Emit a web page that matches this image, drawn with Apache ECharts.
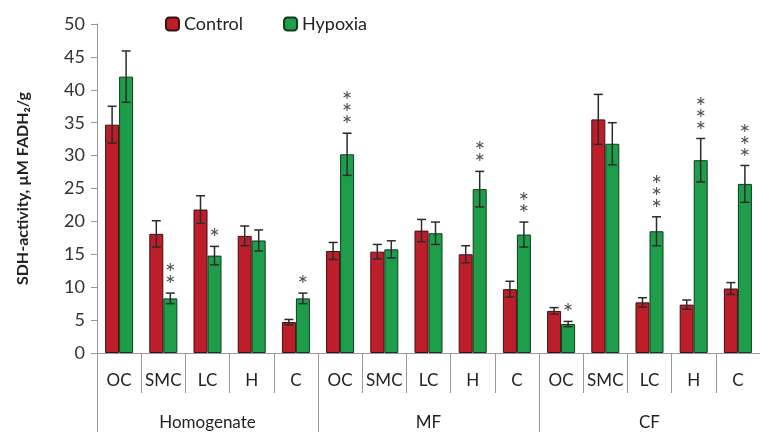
<!DOCTYPE html>
<html>
<head>
<meta charset="utf-8">
<script src="https://cdn.jsdelivr.net/npm/echarts@6/dist/echarts.min.js"></script>
<style>
  html, body { margin: 0; padding: 0; background: #fff; }
  #chart { width: 760px; height: 432px; }
</style>
</head>
<body>
<div id="chart"></div>
<script>
// Tissue categories, repeated for each fraction
const categories = ['OC', 'SMC', 'LC', 'H', 'C', 'OC', 'SMC', 'LC', 'H', 'C', 'OC', 'SMC', 'LC', 'H', 'C'];
const groups = ['Homogenate', 'MF', 'CF'];

// SDH activity (µM FADH2/g), mean and error
const controlMean = [34.7, 18.1, 21.8, 17.8, 4.7, 15.5, 15.4, 18.6, 15.0, 9.7, 6.4, 35.5, 7.7, 7.35, 9.8];
const controlErr  = [2.8, 2.0, 2.1, 1.5, 0.4, 1.3, 1.1, 1.7, 1.3, 1.2, 0.5, 3.8, 0.7, 0.7, 0.9];
const hypoxiaMean = [42.0, 8.3, 14.8, 17.1, 8.3, 30.2, 15.75, 18.2, 24.9, 18.0, 4.4, 31.8, 18.5, 29.3, 25.7];
const hypoxiaErr  = [3.9, 0.8, 1.4, 1.6, 0.8, 3.2, 1.3, 1.7, 2.7, 1.9, 0.4, 3.2, 2.2, 3.3, 2.8];
// significance markers (number of asterisks) for hypoxia vs control
const hypoxiaStars = [0, 2, 1, 0, 1, 3, 0, 0, 2, 2, 1, 0, 3, 3, 3];

const yTicks = { min: 0, max: 50, interval: 5 };

const FONT = 'Lato, "Open Sans", sans-serif';
const RED = '#BE1E2A';
const GREEN = '#1E9E4A';
const BAR_W = 14;

function errorSeries(name, means, errs, stars, offset) {
  return {
    name: name + ' error',
    type: 'custom',
    xAxisIndex: 0,
    z: 5,
    silent: true,
    data: means.map((m, i) => [i, m, errs[i], stars ? stars[i] : 0]),
    encode: { x: 0, y: 1 },
    renderItem: function (params, api) {
      const i = api.value(0);
      const mean = api.value(1);
      const err = api.value(2);
      const n = api.value(3);
      const hi = api.coord([i, mean + err]);
      const lo = api.coord([i, mean - err]);
      const x = hi[0] + offset;
      const style = { stroke: '#2b2b2b', lineWidth: 1.5 };
      const children = [
        { type: 'line', shape: { x1: x, y1: lo[1], x2: x, y2: hi[1] }, style: style },
        { type: 'line', shape: { x1: x - 4.5, y1: hi[1], x2: x + 4.5, y2: hi[1] }, style: style },
        { type: 'line', shape: { x1: x - 4.5, y1: lo[1], x2: x + 4.5, y2: lo[1] }, style: style }
      ];
      for (let k = 0; k < n; k++) {
        children.push({
          type: 'text',
          style: {
            text: '*',
            x: x,
            y: hi[1] - 7 - k * 12,
            align: 'center',
            verticalAlign: 'middle',
            font: '25px ' + FONT,
            fill: '#505050'
          }
        });
      }
      return { type: 'group', children: children };
    }
  };
}

const chart = echarts.init(document.getElementById('chart'), null, { renderer: 'canvas' });

chart.setOption({
  animation: false,
  backgroundColor: '#fff',
  textStyle: { fontFamily: FONT },
  legend: {
    left: 160,
    top: 10,
    itemWidth: 13,
    itemHeight: 13,
    itemGap: 40,
    textStyle: { fontSize: 18, color: '#222', fontFamily: FONT },
    data: ['Control', 'Hypoxia']
  },
  // the last category runs slightly past the right edge of the canvas
  grid: { left: 97, width: 672, top: 24, bottom: 79, containLabel: false },
  xAxis: [
    {
      type: 'category',
      data: categories,
      position: 'bottom',
      axisLine: { show: true, lineStyle: { color: '#999', width: 1 } },
      axisTick: { show: true, interval: 0, length: 40, lineStyle: { color: '#999' } },
      axisLabel: { interval: 0, margin: 19, fontSize: 17, color: '#222', fontFamily: FONT }
    },
    {
      type: 'category',
      data: groups,
      position: 'bottom',
      axisLine: { show: false },
      axisTick: { show: true, interval: 0, length: 80, lineStyle: { color: '#999' } },
      axisLabel: { interval: 0, margin: 61, fontSize: 17, color: '#222', fontFamily: FONT }
    }
  ],
  yAxis: {
    type: 'value',
    min: yTicks.min,
    max: yTicks.max,
    interval: yTicks.interval,
    name: 'SDH-activity, µM FADH₂/g',
    nameLocation: 'middle',
    nameGap: 66,
    nameTextStyle: { fontSize: 16, fontWeight: 'bold', color: '#222', fontFamily: FONT },
    axisLine: { show: true, lineStyle: { color: '#999' } },
    axisTick: { show: true, length: 6, lineStyle: { color: '#999' } },
    axisLabel: { margin: 12, fontSize: 18, color: '#333', fontFamily: FONT },
    splitLine: { show: false }
  },
  series: [
    {
      name: 'Control',
      type: 'bar',
      xAxisIndex: 0,
      barWidth: BAR_W,
      barGap: '0%',
      itemStyle: { color: RED, borderColor: '#3a1010', borderWidth: 1 },
      data: controlMean
    },
    {
      name: 'Hypoxia',
      type: 'bar',
      xAxisIndex: 0,
      barWidth: BAR_W,
      barGap: '0%',
      itemStyle: { color: GREEN, borderColor: '#103a1c', borderWidth: 1 },
      data: hypoxiaMean
    },
    errorSeries('Control', controlMean, controlErr, null, -BAR_W / 2),
    errorSeries('Hypoxia', hypoxiaMean, hypoxiaErr, hypoxiaStars, BAR_W / 2)
  ]
});
</script>
</body>
</html>
